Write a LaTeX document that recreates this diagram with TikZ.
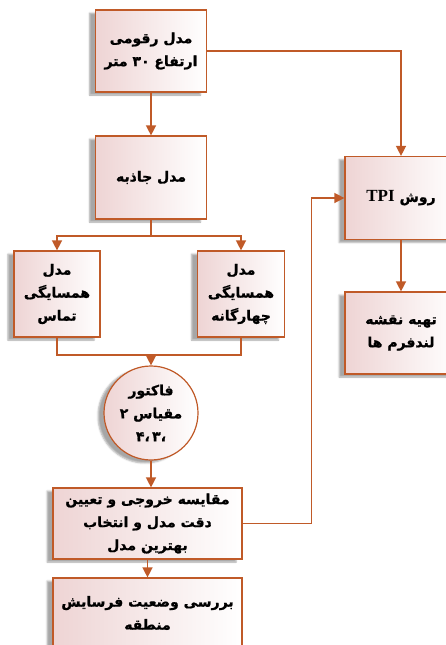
\documentclass[tikz,border=0pt]{standalone}
\usepackage{fontspec}
\newfontfamily\farsi[Script=Arabic, BoldFeatures={FakeBold=1}]{DejaVu Sans}
\newfontfamily\latinserif{Liberation Serif}
\TeXXeTstate=1
\usepackage{xcolor}
\usetikzlibrary{arrows.meta}
\usetikzlibrary{shadows.blur}
\definecolor{linkbrown}{RGB}{192,90,40}
\definecolor{boxpink}{RGB}{238,212,212}
\tikzset{
  stepbox/.style = {draw=linkbrown, line width=1.2pt,
    left color=boxpink, right color=white,
    blur shadow={shadow xshift=-6pt, shadow yshift=-3pt, shadow opacity=35},
    align=center, inner sep=2pt,
    font=\farsi\bfseries\fontsize{14}{23}\selectfont},
  stepcircle/.style = {stepbox, circle},
  link/.style = {draw=linkbrown, line width=1.4pt},
  arr/.style = {link, -{Triangle[width=10pt,length=10pt]}}
}

\begin{document}
\begin{tikzpicture}[x=1pt,y=-1pt]
  \useasboundingbox (0,0) rectangle (446,645);
  \clip (0,0) rectangle (446,645);
  %%% left column
  \node[stepbox, minimum width=111pt, minimum height=82pt] (dem) at (151,51)
    {\beginR مدل رقومی\endR\\\beginR ارتفاع \beginL\hbox{۳}\hbox{۰}\endL{} متر\endR};
  \node[stepbox, minimum width=111pt, minimum height=83pt] (grav) at (151,177.5)
    {\beginR مدل جاذبه\endR};
  \node[stepbox, minimum width=86pt, minimum height=86pt] (cont) at (57,294)
    {\beginR مدل\endR\\\beginR همسایگی\endR\\\beginR تماس\endR};
  \node[stepbox, minimum width=87pt, minimum height=86pt] (quad) at (241,294)
    {\beginR مدل\endR\\\beginR همسایگی\endR\\\beginR چهارگانه\endR};
  \node[stepcircle, minimum size=94pt, inner sep=0pt] (fac) at (151,413)
    {\beginR فاکتور\endR\\\beginR مقیاس ۲\endR\\\hbox{۴}\hbox{،}\,\hbox{۳}\hbox{،}};
  \node[stepbox, minimum width=189pt, minimum height=71pt] (cmp) at (147.5,523.5)
    {\beginR مقایسه خروجی و تعیین\endR\\\beginR دقت مدل و انتخاب\endR\\\beginR بهترین مدل\endR};
  \node[stepbox, minimum width=189pt, minimum height=70pt] (ero) at (147.5,613)
    {\beginR بررسی وضعیت فرسایش\endR\\\beginR منطقه\endR};
  %%% right column
  \node[stepbox, minimum width=112pt, minimum height=83pt] (tpi) at (401,198)
    {\beginR روش \beginL{\latinserif\bfseries\fontsize{17}{23}\selectfont TPI}\endL\endR};
  \node[stepbox, minimum width=112pt, minimum height=82pt] (land) at (401,333)
    {\beginR تهیه نقشه\endR\\\beginR لندفرم ها\endR};
  %%% connectors
  \draw[arr] (dem.south) -- (grav.north);
  \draw[link] (grav.south) -- (grav.south |- 0,236) coordinate (split);
  \draw[arr] (split) -| (cont.north);
  \draw[arr] (split) -| (quad.north);
  \coordinate (merge) at (fac.north |- 0,355);
  \draw[link] (cont.south) |- (merge) -| (quad.south);
  \draw[arr] (merge) -- (fac.north);
  \draw[arr] (fac.south) -- (fac.south |- cmp.north);
  \draw[arr] (cmp.south) -- (ero.north);
  \draw[arr] (dem.east) -| (tpi.north);
  \draw[arr] (cmp.east) -- ++(69,0) |- (tpi.west);
  \draw[arr] (tpi.south) -- (land.north);
\end{tikzpicture}
\end{document}
